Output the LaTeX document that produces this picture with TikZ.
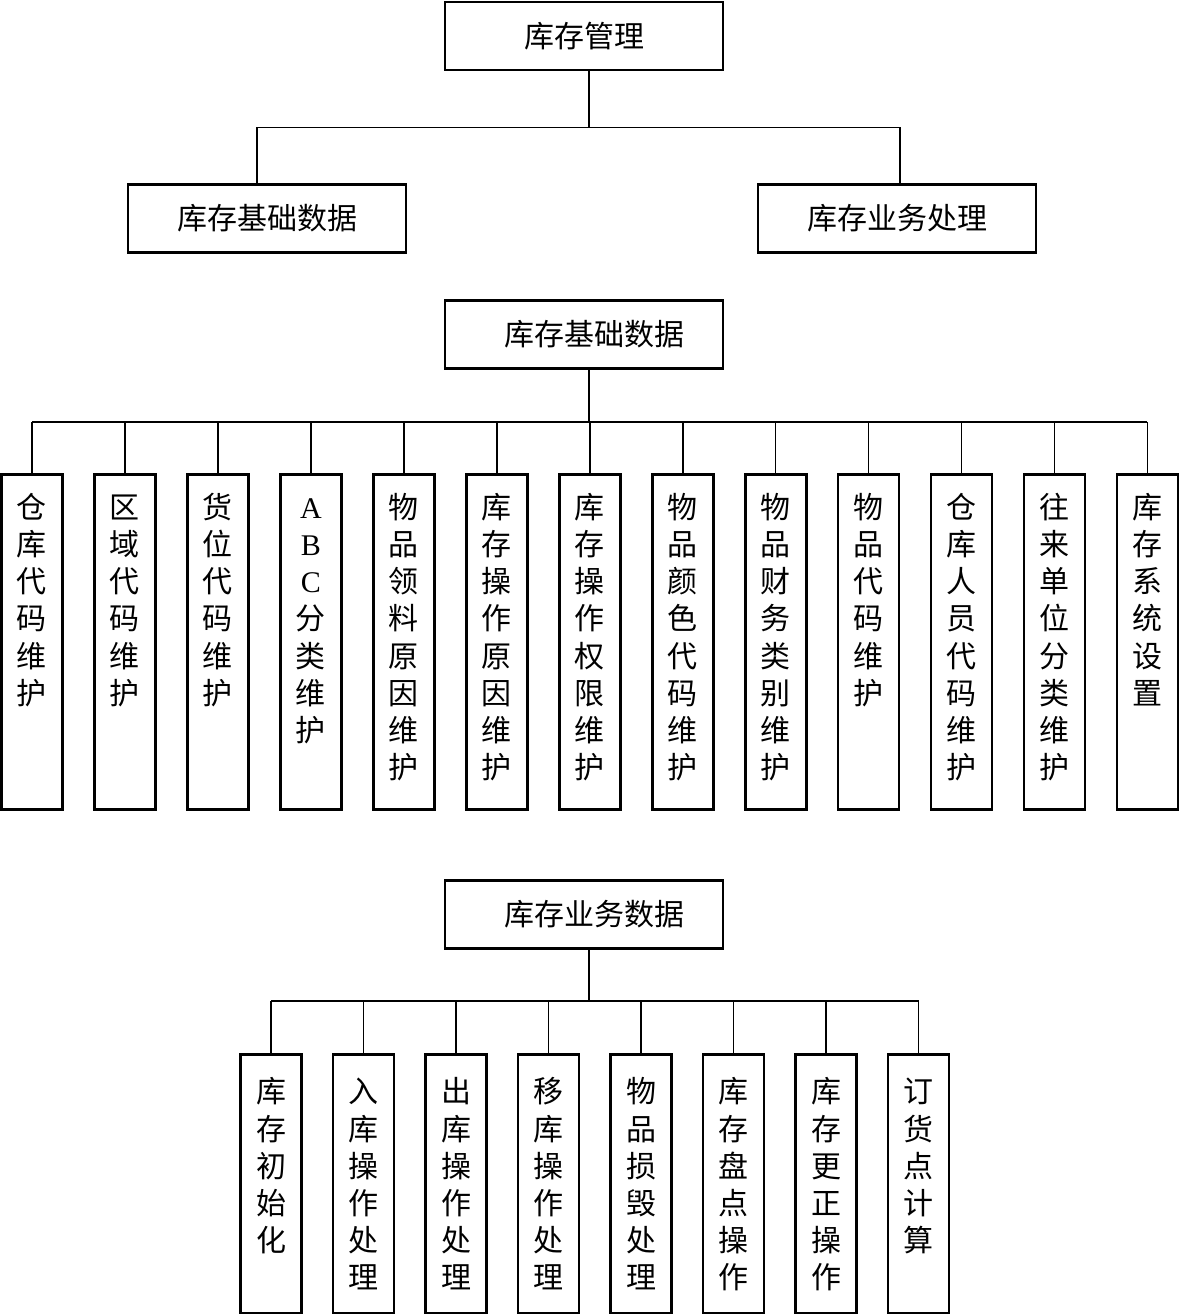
\documentclass[tikz,border=0pt]{standalone}
\usepackage{fontspec}
\setmainfont{Noto Sans CJK SC}
\newfontfamily\latinfont{Liberation Serif}
\def\lA{{\latinfont A}}\def\lB{{\latinfont B}}\def\lC{{\latinfont C}}
\def\vstack#1{\expandafter\vstackA#1\relax}
\def\vstackA#1{\ifx#1\relax\else#1\par\expandafter\vstackA\fi}
\newcommand{\coltext}[3]{\parbox[c][#1][t]{61pt}{\centering\rule{0pt}{#2}\vstack{#3}}}
\begin{document}
\begin{tikzpicture}[x=1pt,y=-1pt,
  hbox/.style={draw,line width=2.8pt,minimum width=278pt,minimum height=68pt,inner sep=0pt,font=\fontsize{30pt}{36pt}\selectfont},
  colbox/.style={draw,line width=2.8pt,inner sep=0pt,anchor=north,font=\fontsize{30pt}{37.2pt}\selectfont},
  link/.style={line width=1.7pt}]
\useasboundingbox (0,0) rectangle (1180,1314);

\node[hbox] (top) at (584,36) {库存管理};
\node[hbox] (base) at (267,218.5) {库存基础数据};
\node[hbox] (biz) at (897,218.5) {库存业务处理};
\draw[link] ([xshift=5pt]top.south) -- ++(0,56) coordinate (bus1);
\draw[link] ([xshift=-10pt]base.north) |- (bus1) -| ([xshift=3pt]biz.north);

\node[hbox] (base2) at (584,334.5) {\hspace*{20pt}库存基础数据};
\draw[link] ([xshift=5pt]base2.south) -- ++(0,52) coordinate (bus2);
\foreach \i/\t in {0/仓库代码维护,1/区域代码维护,2/货位代码维护,3/\lA\lB\lC 分类维护,
  4/物品领料原因维护,5/库存操作原因维护,6/库存操作权限维护,7/物品颜色代码维护,
  8/物品财务类别维护,9/物品代码维护,10/仓库人员代码维护,11/往来单位分类维护,12/库存系统设置}
{
   \node[colbox] (m\i) at (32+92.95*\i,473) {\coltext{335pt}{43.9pt}{\t}};
   \draw[link] (m\i.north) -- (m\i.north |- bus2);
}
\draw[link] (m0.north |- bus2) -- (m12.north |- bus2);

\node[hbox] (biz2) at (584,914.5) {\hspace*{20pt}库存业务数据};
\draw[link] ([xshift=5pt]biz2.south) -- ++(0,51) coordinate (bus3);
\foreach \i/\t in {0/库存初始化,1/入库操作处理,2/出库操作处理,3/移库操作处理,
  4/物品损毁处理,5/库存盘点操作,6/库存更正操作,7/订货点计算}
{
   \node[colbox] (n\i) at (271+92.5*\i,1053) {\coltext{259pt}{48.4pt}{\t}};
   \draw[link] (n\i.north) -- (n\i.north |- bus3);
}
\draw[link] (n0.north |- bus3) -- (n7.north |- bus3);

\end{tikzpicture}
\end{document}
